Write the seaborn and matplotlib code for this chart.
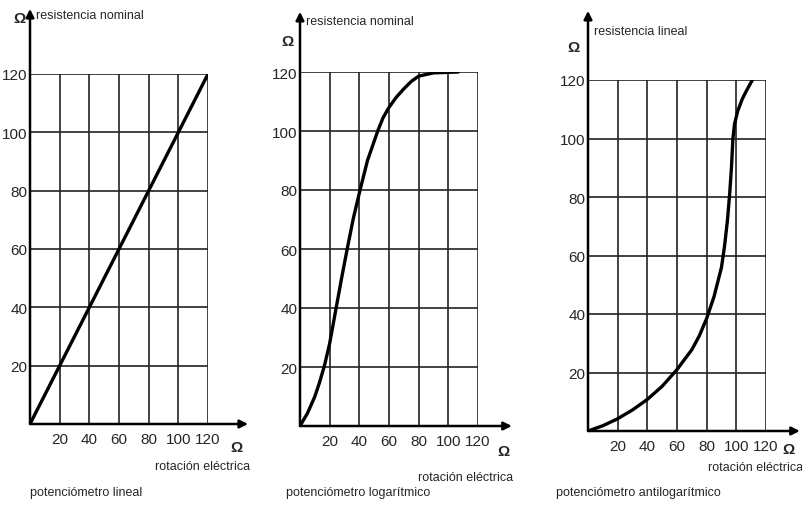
import matplotlib
matplotlib.use('Agg')
import matplotlib.pyplot as plt
import seaborn as sns
import pandas as pd

# values
ticks = [20, 40, 60, 80, 100, 120]
tick_labels = ['20', '40', '60', '80', '100', '120']

lin_rot = [0, 20, 40, 60, 80, 100, 120]
lin_res = [0, 20, 40, 60, 80, 100, 120]

log_rot = [0, 5, 10, 13, 16.5, 20, 24, 28, 32, 36, 40.5, 45.5, 52.4, 56, 60, 65, 70, 75, 80, 90, 106.7]
log_res = [0, 4.3, 10, 14.5, 20.5, 28, 39, 50, 60.5, 70.5, 80, 90, 100, 104.5, 108, 111.5, 114.3, 116.8, 118.6, 119.7, 120]

alog_rot = [0, 10, 20, 30, 40, 50, 60, 70, 75, 80, 85, 90, 92, 94, 95.5, 96.7, 97.7, 98.8, 101, 104, 107, 110.8]
alog_res = [0, 1.8, 4.2, 7.2, 10.8, 15.3, 21, 27.8, 32.5, 38.5, 46, 56, 63, 72, 81, 90, 100, 105, 109.5, 113.5, 116.5, 120]

sns.set_style('white')
plt.rcParams['font.family'] = ['Liberation Sans', 'DejaVu Sans']

W, H = 803, 510
fig = plt.figure(figsize=(W / 100, H / 100), dpi=100)


def px_text(x, y, s, size=9, ha='left', va='center', weight='normal'):
    fig.text(x / W, 1 - y / H, s, fontsize=size, ha=ha, va=va, weight=weight)


def panel(left, top, bottom, xs, ys, x_tip, y_tip):
    ax = fig.add_axes([left / W, 1 - bottom / H, 178 / W, (bottom - top) / H])
    df = pd.DataFrame({'rot': xs, 'res': ys})
    sns.lineplot(data=df, x='rot', y='res', ax=ax, color='black', lw=2.4, sort=False)
    ax.set_xlim(0, 120)
    ax.set_ylim(0, 120)
    ax.set_xticks(ticks)
    ax.set_yticks(ticks)
    ax.set_xticklabels(tick_labels, fontsize=11)
    ax.set_yticklabels(tick_labels, fontsize=11)
    ax.tick_params(axis='x', length=0, pad=6)
    ax.tick_params(axis='y', length=0, pad=2)
    ax.set_xlabel('')
    ax.set_ylabel('')
    for s in ax.spines.values():
        s.set_visible(False)
    for t in ticks:
        ax.axvline(t, color='#222222', lw=1.2, zorder=0)
        ax.axhline(t, color='#222222', lw=1.2, zorder=0)
    ax.annotate('', xy=(x_tip, 0), xytext=(0, 0), xycoords='axes fraction',
                arrowprops=dict(arrowstyle='-|>', lw=1.8, color='black', mutation_scale=12,
                                shrinkA=0, shrinkB=0), annotation_clip=False)
    ax.annotate('', xy=(0, y_tip), xytext=(0, 0), xycoords='axes fraction',
                arrowprops=dict(arrowstyle='-|>', lw=1.8, color='black', mutation_scale=12,
                                shrinkA=0, shrinkB=0), annotation_clip=False)
    return ax


panel(30, 75, 425, lin_rot, lin_res, 1.225, 1.186)
panel(300, 73, 427, log_rot, log_res, 1.19, 1.17)
panel(588, 81, 432, alog_rot, alog_res, 1.19, 1.197)

# panel 1 texts
px_text(20, 19, 'Ω', size=11, ha='center', weight='bold')
px_text(36, 16, 'resistencia nominal')
px_text(237, 448, 'Ω', size=11, ha='center', weight='bold')
px_text(250, 467, 'rotación eléctrica', ha='right')
px_text(30, 493, 'potenciómetro lineal')

# panel 2 texts
px_text(288, 42, 'Ω', size=11, ha='center', weight='bold')
px_text(306, 22, 'resistencia nominal')
px_text(504, 452, 'Ω', size=11, ha='center', weight='bold')
px_text(513, 478, 'rotación eléctrica', ha='right')
px_text(286, 493, 'potenciómetro logarítmico')

# panel 3 texts
px_text(574, 48, 'Ω', size=11, ha='center', weight='bold')
px_text(594, 32, 'resistencia lineal')
px_text(789, 450, 'Ω', size=11, ha='center', weight='bold')
px_text(803, 468, 'rotación eléctrica', ha='right')
px_text(556, 493, 'potenciómetro antilogarítmico')

fig.savefig('out.png', dpi=100)
